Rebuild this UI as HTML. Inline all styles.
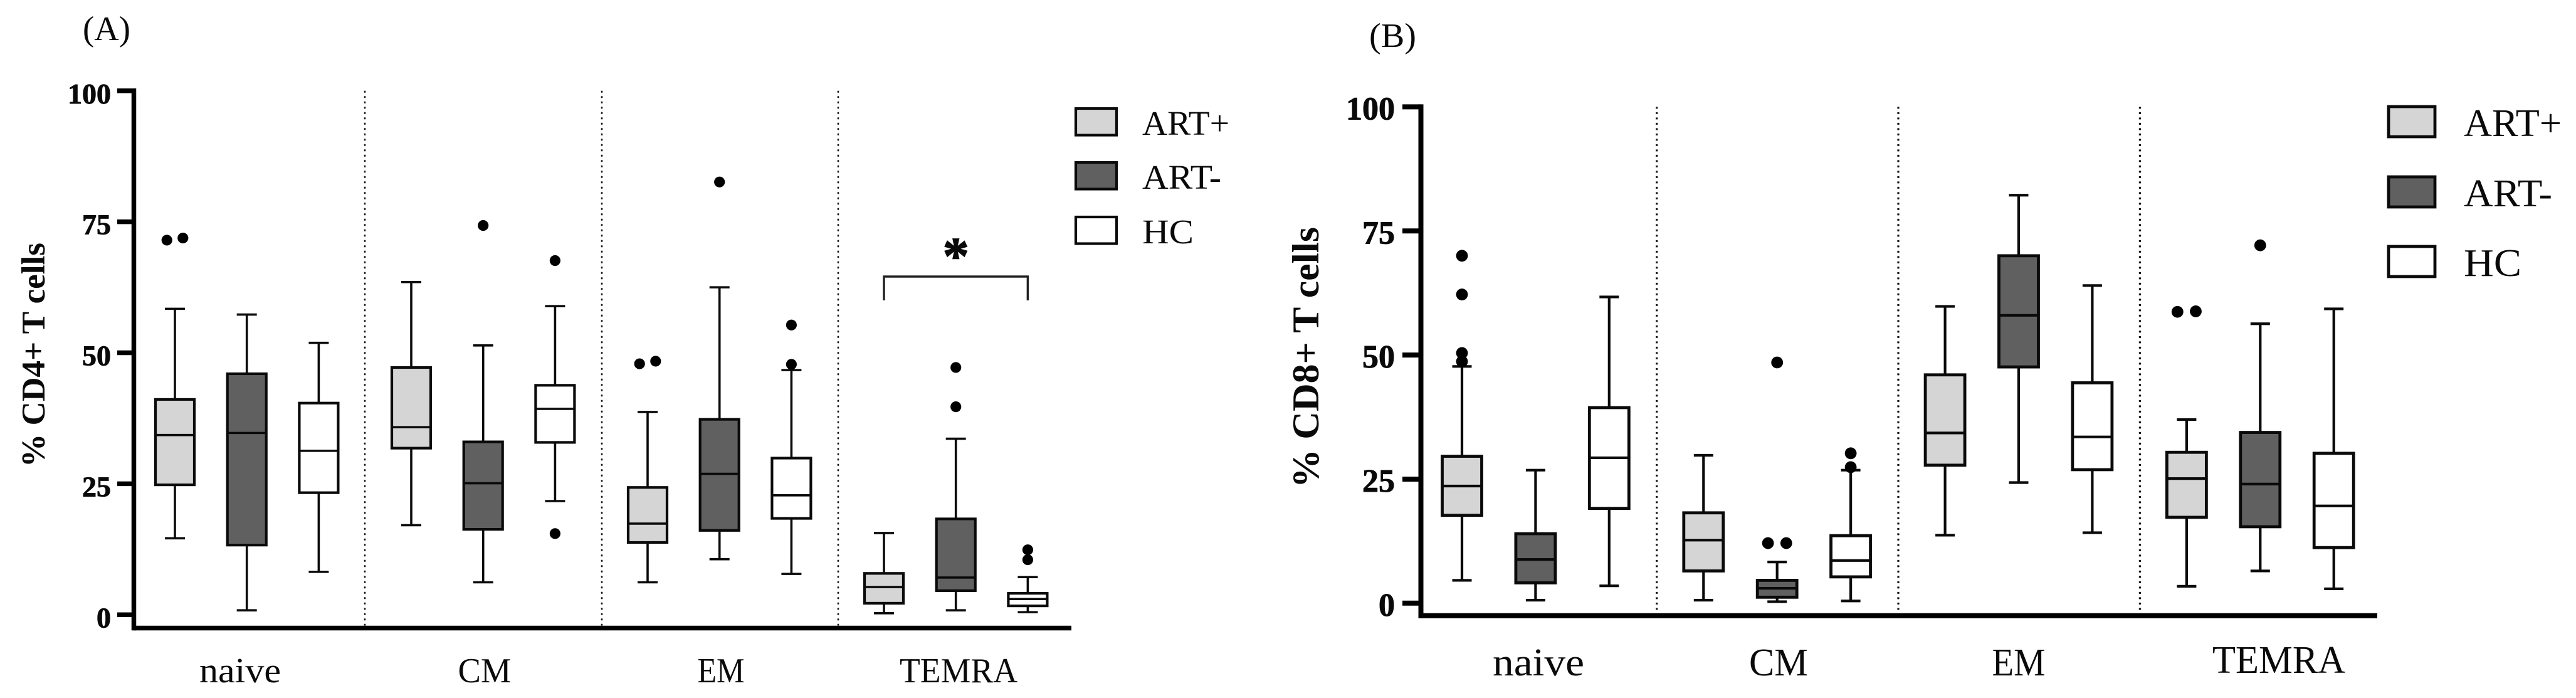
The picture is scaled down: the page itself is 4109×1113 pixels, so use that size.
<!DOCTYPE html>
<html lang="en">
<head>
<meta charset="utf-8">
<title>CD4+ and CD8+ T cell subsets</title>
<style>
html,body{margin:0;padding:0;background:#fff;}
svg{display:block;}
text{font-family:"Liberation Serif",serif;fill:#0a0a0a;}
</style>
</head>
<body>
<svg id="chart" xmlns="http://www.w3.org/2000/svg" width="4109" height="1113" viewBox="0 0 4109 1113">
<rect x="0" y="0" width="4109" height="1113" fill="#ffffff"/>
</svg>
<script>
// ---------- Data: each box is [low whisker, Q1, median, Q3, high whisker] ----------
const categories = ['naive', 'CM', 'EM', 'TEMRA'];
const seriesNames = ['ART+', 'ART-', 'HC'];
const yTickLabels = [0, 25, 50, 75, 100];

const cd4ArtPlus = [[14.6, 24.8, 34.3, 41.1, 58.4], [17.1, 31.8, 35.8, 47.2, 63.5], [6.2, 13.8, 17.4, 24.3, 38.7], [0.3, 2.2, 5.3, 7.9, 15.6]];
const cd4ArtMinus = [[0.85, 13.3, 34.7, 46, 57.3], [6.2, 16.3, 25.1, 33, 51.4], [10.6, 16.1, 26.9, 37.3, 62.5], [0.85, 4.6, 7.1, 18.3, 33.6]];
const cd4Hc = [[8.2, 23.3, 31.3, 40.4, 51.9], [21.7, 32.9, 39.3, 43.8, 58.9], [7.8, 18.4, 22.8, 29.9, 46.7], [0.5, 1.7, 3, 4.1, 7.2]];
const cd4ArtPlusOutliers = [[71.5, 71.9], [], [47.9, 48.4], []];
const cd4ArtMinusOutliers = [[], [74.3], [82.6], [47.2, 39.7]];
const cd4HcOutliers = [[], [67.6, 15.5], [55.3, 47.8], [12.4, 10.5]];

const cd8ArtPlus = [[4.6, 17.7, 23.6, 29.6, 47.7], [0.6, 6.5, 12.7, 18.2, 29.8], [13.7, 27.8, 34.3, 46, 59.8], [3.4, 17.3, 25.1, 30.4, 37]];
const cd8ArtMinus = [[0.6, 4.1, 8.8, 14, 26.8], [0.3, 1.2, 3, 4.6, 8.3], [24.3, 47.6, 58, 70, 82.2], [6.5, 15.4, 24, 34.4, 56.3]];
const cd8Hc = [[3.5, 19.1, 29.3, 39.4, 61.7], [0.45, 5.3, 8.6, 13.6, 26.8], [14.2, 26.9, 33.5, 44.4, 64], [2.9, 11.2, 19.6, 30.2, 59.3]];
const cd8ArtPlusOutliers = [[70, 62.2, 50.4, 48.7], [], [], [58.7, 58.8]];
const cd8ArtMinusOutliers = [[], [48.5, 12.1, 12.1], [], [72.1]];
const cd8HcOutliers = [[], [30.2, 27.4], [], []];

// ---------- Layout ----------
const NS = 'http://www.w3.org/2000/svg';
const svg = document.getElementById('chart');
const seriesFills = ['#d5d5d5', '#606060', '#ffffff'];
const seriesKeys = ['art-plus', 'art-minus', 'hc'];

function make(tag, attrs, parent, txt) {
  const el = document.createElementNS(NS, tag);
  for (const k in attrs) el.setAttribute(k, attrs[k]);
  if (txt !== undefined) el.textContent = txt;
  parent.appendChild(el);
  return el;
}

function drawPanel(p) {
  const g = make('g', {}, svg);
  
  
  const yScale = v => p.y0 - v * p.yUnit;
  const xScale = (c, s) => p.x0 + c * p.groupPitch + s * p.seriesPitch;

  const letter = make('text', {x: p.letterX, y: p.letterY, 'font-size': p.letterSize, textLength: p.letterLen, lengthAdjust: 'spacingAndGlyphs'}, g, p.letter);
  
  

  const title = make('text', {x: 0, y: 0, 'font-size': p.titleSize, 'font-weight': 'bold', 'text-anchor': 'middle', textLength: p.titleLen, lengthAdjust: 'spacingAndGlyphs', transform: 'translate(' + p.titleX + ' ' + p.titleY + ') rotate(-90)'}, g, p.title);
  
  

  p.dividerX.forEach((dx, i) => {
    const d = make('line', {x1: dx, x2: dx, y1: yScale(100), y2: p.axisY - 4, stroke: '#111', 'stroke-width': p.dotW, 'stroke-dasharray': '3 5.5'}, g);
    
    
  });

  yTickLabels.forEach(t => {
    const tick = make('line', {x1: p.tickX, x2: p.axisX, y1: yScale(t), y2: yScale(t), stroke: '#000', 'stroke-width': p.axisW}, g);
    
    
    const lab = make('text', {x: p.tickLabelX, y: yScale(t) + p.tickLabelDy, 'font-size': p.tickSize, 'font-weight': 'bold', 'text-anchor': 'end', stroke: '#0a0a0a', 'stroke-width': 0.9}, g, String(t));
    
    
  });

  const yAxis = make('line', {x1: p.axisX, x2: p.axisX, y1: yScale(100) - p.axisW / 2, y2: p.axisY + p.axisW / 2, stroke: '#000', 'stroke-width': p.axisW}, g);
  
  
  const xAxis = make('line', {x1: p.axisX, x2: p.axisEnd, y1: p.axisY, y2: p.axisY, stroke: '#000', 'stroke-width': p.axisW}, g);
  
  

  categories.forEach((name, c) => {
    const lab = make('text', {x: p.catX[c], y: p.catY[c], 'font-size': p.catSize, 'text-anchor': 'middle', textLength: p.catLen[c], lengthAdjust: 'spacingAndGlyphs'}, g, name);
    
    
  });

  p.boxes.forEach((seriesData, s) => {
    seriesData.forEach((b, c) => {
      const cx = xScale(c, s);
      const bg = make('g', {}, g);
      
      
      const lineAttrs = {stroke: '#0a0a0a', 'stroke-width': p.whiskW};
      const wh = make('line', Object.assign({x1: cx, x2: cx, y1: yScale(b[0]), y2: yScale(b[4])}, lineAttrs), bg);
      
      
      const capLo = make('line', Object.assign({x1: cx - p.capW / 2, x2: cx + p.capW / 2, y1: yScale(b[0]), y2: yScale(b[0])}, lineAttrs), bg);
      
      
      const capHi = make('line', Object.assign({x1: cx - p.capW / 2, x2: cx + p.capW / 2, y1: yScale(b[4]), y2: yScale(b[4])}, lineAttrs), bg);
      
      
      const rect = make('rect', {x: cx - p.boxW / 2, y: yScale(b[3]), width: p.boxW, height: yScale(b[1]) - yScale(b[3]), fill: seriesFills[s], stroke: '#0a0a0a', 'stroke-width': p.boxStroke}, bg);
      
      
      const med = make('line', Object.assign({x1: cx - p.boxW / 2, x2: cx + p.boxW / 2, y1: yScale(b[2]), y2: yScale(b[2])}, lineAttrs), bg);
      
      
      p.outliers[s][c].forEach((v, i, arr) => {
        const partner = arr.findIndex((o, j) => j !== i && Math.abs(o - v) < 1);
        const dx = partner < 0 ? 0 : (i < partner ? -p.dodge : p.dodge);
        const pt = make('circle', {cx: cx + dx, cy: yScale(v), r: p.pointR, fill: '#000'}, bg);
        
        
      });
    });
  });

  seriesNames.forEach((name, s) => {
    const lg = make('g', {}, g);
    
    
    const sw = make('rect', {x: p.legX, y: p.legY[s], width: p.legW, height: p.legH, fill: seriesFills[s], stroke: '#0a0a0a', 'stroke-width': p.boxStroke}, lg);
    
    
    const t = make('text', {x: p.legTextX, y: p.legTextY[s], 'font-size': p.legSize, textLength: p.legLen[s], lengthAdjust: 'spacingAndGlyphs'}, lg, name);
    
    
  });

  if (p.bracket) {
    const br = make('path', {d: 'M' + xScale(3, 0) + ' ' + p.bracket.bottom + 'V' + p.bracket.top + 'H' + xScale(3, 2) + 'V' + p.bracket.bottom, fill: 'none', stroke: '#222', 'stroke-width': 3.5}, g);
    
    
    const star = make('text', {x: xScale(3, 1), y: p.bracket.starY, 'font-size': p.bracket.starSize, 'font-weight': 'bold', 'text-anchor': 'middle', stroke: '#0a0a0a', 'stroke-width': 1.5}, g, '*');
    
    
  }
}

drawPanel({
  key: 'cd4', letter: '(A)', letterX: 132, letterY: 64, letterSize: 55, letterLen: 76,
  title: '% CD4+ T cells', titleX: 71, titleY: 566, titleSize: 53, titleLen: 358,
  y0: 980.3, yUnit: 8.355, axisX: 213.5, axisY: 1001.5, axisEnd: 1709, axisW: 7.5, tickX: 187,
  tickLabelX: 177, tickLabelDy: 20, tickSize: 46,
  dividerX: [582, 960, 1337], dotW: 2.5,
  x0: 279, groupPitch: 377, seriesPitch: 114.7,
  boxW: 62, capW: 32, boxStroke: 4.2, whiskW: 3.6, pointR: 8.6, dodge: 12.8,
  boxes: [cd4ArtPlus, cd4ArtMinus, cd4Hc],
  outliers: [cd4ArtPlusOutliers, cd4ArtMinusOutliers, cd4HcOutliers],
  catX: [383, 773, 1150, 1529], catY: [1088, 1088, 1088, 1088], catSize: 56, catLen: [130, 85, 75, 188],
  legX: 1716, legY: [173, 259, 346], legW: 65, legH: 42.5,
  legTextX: 1822, legTextY: [215, 301, 388], legSize: 55, legLen: [139, 126, 82],
  bracket: {top: 441, bottom: 479, starY: 436, starSize: 84}
});

drawPanel({
  key: 'cd8', letter: '(B)', letterX: 2184, letterY: 75, letterSize: 55, letterLen: 75,
  title: '% CD8+ T cells', titleX: 2103, titleY: 570, titleSize: 60, titleLen: 416,
  y0: 961.8, yUnit: 7.914, axisX: 2266.5, axisY: 981.7, axisEnd: 3792, axisW: 8, tickX: 2237,
  tickLabelX: 2225, tickLabelDy: 20, tickSize: 52,
  dividerX: [2642.7, 3028, 3413.4], dotW: 3.2,
  x0: 2332, groupPitch: 385.3, seriesPitch: 117.4,
  boxW: 63, capW: 31, boxStroke: 4.8, whiskW: 4.2, pointR: 9.4, dodge: 14.6,
  boxes: [cd8ArtPlus, cd8ArtMinus, cd8Hc],
  outliers: [cd8ArtPlusOutliers, cd8ArtMinusOutliers, cd8HcOutliers],
  catX: [2454, 2837, 3220, 3635], catY: [1077, 1077, 1077, 1073], catSize: 62, catLen: [146, 94, 85, 212],
  legX: 3810, legY: [170, 282, 393], legW: 74, legH: 48,
  legTextX: 3930, legTextY: [217, 329, 440], legSize: 62, legLen: [156, 141, 92]
});
</script>
</body>
</html>
